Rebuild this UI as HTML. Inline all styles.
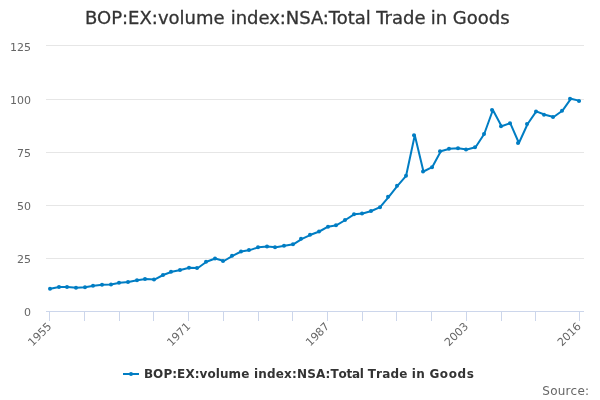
<!DOCTYPE html>
<html><head><meta charset="utf-8"><title>BOP:EX:volume index:NSA:Total Trade in Goods</title>
<style>
html,body{margin:0;padding:0;background:#fff;}
svg{display:block;font-family:"DejaVu Sans","Liberation Sans",sans-serif;}
</style></head><body>
<svg width="600" height="400" viewBox="0 0 600 400">
<rect x="0" y="0" width="600" height="400" fill="#ffffff"/>
<g><rect x="46" y="45" width="538" height="1" fill="#e6e6e6"/><rect x="46" y="99" width="538" height="1" fill="#e6e6e6"/><rect x="46" y="152" width="538" height="1" fill="#e6e6e6"/><rect x="46" y="205" width="538" height="1" fill="#e6e6e6"/><rect x="46" y="258" width="538" height="1" fill="#e6e6e6"/></g>
<rect x="46" y="311" width="538" height="1" fill="#ccd6eb"/>
<g><rect x="49" y="312" width="1" height="9" fill="#ccd6eb"/><rect x="84" y="312" width="1" height="9" fill="#ccd6eb"/><rect x="119" y="312" width="1" height="9" fill="#ccd6eb"/><rect x="153" y="312" width="1" height="9" fill="#ccd6eb"/><rect x="188" y="312" width="1" height="9" fill="#ccd6eb"/><rect x="223" y="312" width="1" height="9" fill="#ccd6eb"/><rect x="258" y="312" width="1" height="9" fill="#ccd6eb"/><rect x="292" y="312" width="1" height="9" fill="#ccd6eb"/><rect x="327" y="312" width="1" height="9" fill="#ccd6eb"/><rect x="362" y="312" width="1" height="9" fill="#ccd6eb"/><rect x="396" y="312" width="1" height="9" fill="#ccd6eb"/><rect x="431" y="312" width="1" height="9" fill="#ccd6eb"/><rect x="466" y="312" width="1" height="9" fill="#ccd6eb"/><rect x="501" y="312" width="1" height="9" fill="#ccd6eb"/><rect x="535" y="312" width="1" height="9" fill="#ccd6eb"/><rect x="579" y="312" width="1" height="9" fill="#ccd6eb"/></g>
<g fill="none" stroke="#007dc3" stroke-width="2" stroke-linejoin="round" stroke-linecap="round"><path d="M 50.34 288.70 L 59.02 287.00 L 67.69 287.00 L 76.37 287.80 L 85.05 287.30 L 93.73 285.80 L 102.40 284.80 L 111.08 284.50 L 119.76 282.80 L 128.44 282.00 L 137.11 280.30 L 145.79 279.00 L 154.47 279.60 L 163.15 275.00 L 171.82 271.80 L 180.50 270.00 L 189.18 267.80 L 197.86 268.00 L 206.53 261.80 L 215.21 258.50 L 223.89 261.00 L 232.57 255.80 L 241.24 251.50 L 249.92 250.10 L 258.60 247.20 L 267.28 246.50 L 275.95 247.20 L 284.63 245.70 L 293.31 244.30 L 301.99 238.80 L 310.66 234.80 L 319.34 231.50 L 328.02 226.70 L 336.69 225.20 L 345.37 220.00 L 354.05 214.30 L 362.73 213.50 L 371.40 211.00 L 380.08 207.20 L 388.76 196.80 L 397.44 185.80 L 406.11 175.80 L 414.79 135.20 L 423.47 171.50 L 432.15 167.20 L 440.82 151.20 L 449.50 148.80 L 458.18 148.30 L 466.86 149.50 L 475.53 147.20 L 484.21 134.00 L 492.89 110.00 L 501.57 126.20 L 510.24 123.20 L 518.92 143.00 L 527.60 124.00 L 536.28 111.40 L 544.95 114.70 L 553.63 117.00 L 562.31 110.80 L 570.99 98.70 L 579.66 100.90"/></g>
<g fill="#007dc3"><circle cx="50" cy="288.70" r="2"/><circle cx="59" cy="287.00" r="2"/><circle cx="67" cy="287.00" r="2"/><circle cx="76" cy="287.80" r="2"/><circle cx="85" cy="287.30" r="2"/><circle cx="93" cy="285.80" r="2"/><circle cx="102" cy="284.80" r="2"/><circle cx="111" cy="284.50" r="2"/><circle cx="119" cy="282.80" r="2"/><circle cx="128" cy="282.00" r="2"/><circle cx="137" cy="280.30" r="2"/><circle cx="145" cy="279.00" r="2"/><circle cx="154" cy="279.60" r="2"/><circle cx="163" cy="275.00" r="2"/><circle cx="171" cy="271.80" r="2"/><circle cx="180" cy="270.00" r="2"/><circle cx="189" cy="267.80" r="2"/><circle cx="197" cy="268.00" r="2"/><circle cx="206" cy="261.80" r="2"/><circle cx="215" cy="258.50" r="2"/><circle cx="223" cy="261.00" r="2"/><circle cx="232" cy="255.80" r="2"/><circle cx="241" cy="251.50" r="2"/><circle cx="249" cy="250.10" r="2"/><circle cx="258" cy="247.20" r="2"/><circle cx="267" cy="246.50" r="2"/><circle cx="275" cy="247.20" r="2"/><circle cx="284" cy="245.70" r="2"/><circle cx="293" cy="244.30" r="2"/><circle cx="301" cy="238.80" r="2"/><circle cx="310" cy="234.80" r="2"/><circle cx="319" cy="231.50" r="2"/><circle cx="328" cy="226.70" r="2"/><circle cx="336" cy="225.20" r="2"/><circle cx="345" cy="220.00" r="2"/><circle cx="354" cy="214.30" r="2"/><circle cx="362" cy="213.50" r="2"/><circle cx="371" cy="211.00" r="2"/><circle cx="380" cy="207.20" r="2"/><circle cx="388" cy="196.80" r="2"/><circle cx="397" cy="185.80" r="2"/><circle cx="406" cy="175.80" r="2"/><circle cx="414" cy="135.20" r="2"/><circle cx="423" cy="171.50" r="2"/><circle cx="432" cy="167.20" r="2"/><circle cx="440" cy="151.20" r="2"/><circle cx="449" cy="148.80" r="2"/><circle cx="458" cy="148.30" r="2"/><circle cx="466" cy="149.50" r="2"/><circle cx="475" cy="147.20" r="2"/><circle cx="484" cy="134.00" r="2"/><circle cx="492" cy="110.00" r="2"/><circle cx="501" cy="126.20" r="2"/><circle cx="510" cy="123.20" r="2"/><circle cx="518" cy="143.00" r="2"/><circle cx="527" cy="124.00" r="2"/><circle cx="536" cy="111.40" r="2"/><circle cx="544" cy="114.70" r="2"/><circle cx="553" cy="117.00" r="2"/><circle cx="562" cy="110.80" r="2"/><circle cx="570" cy="98.70" r="2"/><circle cx="579" cy="100.90" r="2"/></g>
<text y="24" font-size="18px" fill="#333333" stroke="#333333" stroke-width="0.3"><tspan x="85.0" letter-spacing="0">BOP:EX:volume </tspan><tspan x="230.75" letter-spacing="-0.05">index:NSA:Total </tspan><tspan x="376.25" letter-spacing="0">Trade </tspan><tspan x="430.75" letter-spacing="0">in </tspan><tspan x="452.75" letter-spacing="0">Goods</tspan></text>
<g font-size="11px" fill="#666666"><text x="31" y="51" text-anchor="end">125</text><text x="31" y="104" text-anchor="end">100</text><text x="31" y="157" text-anchor="end">75</text><text x="31" y="210" text-anchor="end">50</text><text x="31" y="263" text-anchor="end">25</text><text x="31" y="316" text-anchor="end">0</text></g>
<g font-size="11px" fill="#666666"><text x="52.3" y="327" text-anchor="end" transform="rotate(-45 52.3 327)">1955</text><text x="191.2" y="327" text-anchor="end" transform="rotate(-45 191.2 327)">1971</text><text x="330.0" y="327" text-anchor="end" transform="rotate(-45 330.0 327)">1987</text><text x="468.9" y="327" text-anchor="end" transform="rotate(-45 468.9 327)">2003</text><text x="581.7" y="327" text-anchor="end" transform="rotate(-45 581.7 327)">2016</text></g>
<g><path d="M 123 374 L 139 374" stroke="#007dc3" stroke-width="2" fill="none"/><circle cx="131" cy="374" r="2" fill="#007dc3"/>
<text y="378" font-size="12px" font-weight="bold" fill="#333333" style="font-kerning:none"><tspan x="143.9" letter-spacing="0.07">BOP:EX:volume </tspan><tspan x="253.9" letter-spacing="0.19">index:NSA:</tspan><tspan x="330.6" letter-spacing="-0.25">Total </tspan><tspan x="367.7" letter-spacing="0.21">Trade </tspan><tspan x="411.75" letter-spacing="0.3">in </tspan><tspan x="429.4" letter-spacing="0.6">Goods</tspan></text></g>
<text x="542.3" y="395" font-size="12px" fill="#666666" letter-spacing="0.25">Source:</text>
</svg>
</body></html>
